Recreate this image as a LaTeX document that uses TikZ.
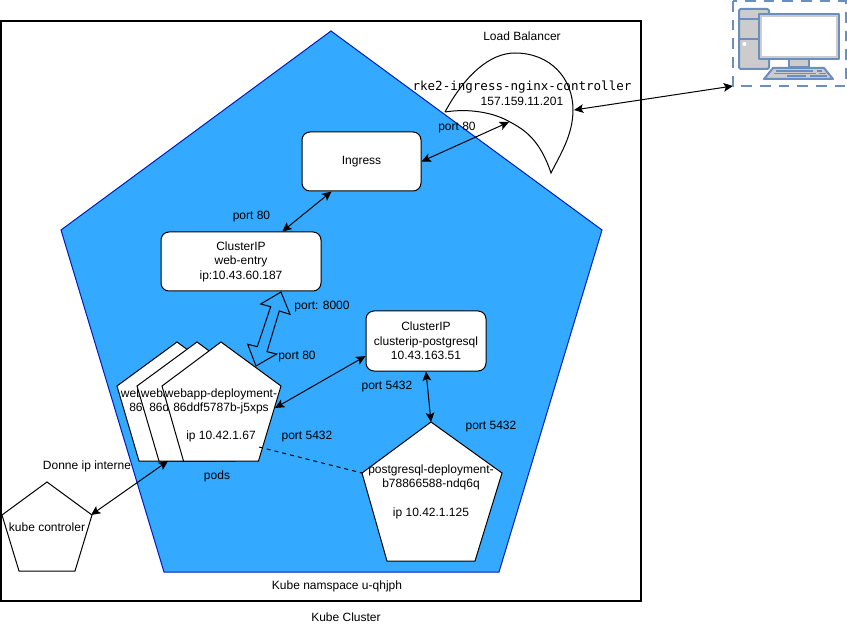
\documentclass[tikz,border=0pt]{standalone}
\usepackage{fontspec}
\setmainfont{Liberation Sans}
\newfontfamily\rkefont{DejaVu Sans Mono}
\usetikzlibrary{arrows.meta}
\definecolor{nsblue}{HTML}{33A9FF}
\definecolor{nsline}{HTML}{001DBC}
\definecolor{pcline}{HTML}{6C8EBF}
\definecolor{pcgray}{HTML}{CCCCCC}
\tikzset{
  lbl/.style={font=\fontsize{9}{10.5}\selectfont,align=center,inner sep=0pt,text=black,yshift=-0.6pt},
  box/.style={draw=black,fill=white,rounded corners=6pt,line width=0.75pt,inner sep=0pt,
     font=\fontsize{9}{10.8}\selectfont,align=center},
  pent/.style={draw=black,fill=white,line width=0.75pt,line join=miter},
  link/.style={draw=black,line width=0.75pt,{Stealth[length=7pt,width=6.5pt,inset=1.5pt]}-{Stealth[length=7pt,width=6.5pt,inset=1.5pt]}},
  pcpart/.style={draw=pcline,line width=1.5pt,line join=round},
}
\newcommand{\pentagon}[8]{%
  \coordinate (#1a) at (#2,#3);
  \coordinate (#1l) at (#5,#4);
  \coordinate (#1r) at (#6,#4);
  \coordinate (#1p) at (#2+#8,#7);
  \coordinate (#1q) at (#2-#8,#7);
  \draw[pent] (#1a) -- (#1r) -- (#1p) -- (#1q) -- (#1l) -- cycle;
}
\begin{document}
\begin{tikzpicture}[x=0.75pt,y=-0.75pt]
\useasboundingbox (0,0) rectangle (847,631);
% cluster
\draw[black,line width=1.5pt,fill=white] (1,21) rectangle (641,601);
% namespace
\coordinate (nsa) at (331,31);
\coordinate (nsr) at (602,230);
\coordinate (nsp) at (499,572);
\coordinate (nsq) at (164,572);
\coordinate (nsl) at (61,230);
\draw[fill=nsblue,draw=nsline,line width=0.75pt] (nsa) -- (nsr) -- (nsp) -- (nsq) -- (nsl) -- cycle;
% load balancer
\coordinate (lbs) at (445,112);
\coordinate (lbt) at (551,173);
\coordinate (lbm) at (510,122);
\coordinate (lbr) at (573,110);
\draw[draw=black,line width=0.75pt]
  (lbs) .. controls (465,75) and (490,53) .. (515,53)
  .. controls (550,53) and (573,78) .. (573,110)
  .. controls (573,135) and (560,155) .. (lbt)
  .. controls (540,140) and (525,130) .. (lbm)
  .. controls (495,113) and (470,108) .. (lbs);
% boxes
\node[box,minimum width=89.25pt,minimum height=44.25pt] (ingress) at (361.5,161.5) {Ingress};
\node[box,minimum width=120pt,minimum height=44.25pt] (web) at (241,261.5)
  {ClusterIP\\web-entry\\ip:10.43.60.187};
\node[box,minimum width=90pt,minimum height=45pt] (pg) at (426,341)
  {ClusterIP\\clusterip-postgresql\\10.43.163.51};
% pods
\pentagon{pa}{177}{342}{386}{117}{237}{461}{38}
\node[lbl] (patxt) at (177,401) {webapp-deployment-\\86ddf5787b-j5xps};
\pentagon{pb}{197}{342}{386}{137}{257}{461}{38}
\node[lbl] (pbtxt) at (197,401) {webapp-deployment-\\86ddf5787b-j5xps};
\pentagon{pc}{221}{342}{386}{162}{281}{461}{37.5}
\node[lbl] (pctxt) at (221,401) {webapp-deployment-\\86ddf5787b-j5xps};
\node[lbl] (pcip) at (221,436) {ip 10.42.1.67};
% postgres
\pentagon{pq}{431}{422}{473}{362}{502}{561}{44}
\node[lbl] (pqtxt) at (431,477) {postgresql-deployment-\\b78866588-ndq6q};
\node[lbl] (pqip) at (431,513) {ip 10.42.1.125};
% kube controler
\pentagon{kc}{47}{482}{515}{2}{92}{571}{28}
\node[lbl] (kctxt) at (47,526) {kube controler};
% block double arrow
\coordinate (ba) at (281,292);
\coordinate (bb) at (256,366);
\draw[draw=black,line width=0.75pt,line join=miter]
  (ba) -- (290,314.3) -- (279.3,311) -- (267,351.7) -- (276.7,354) -- (bb)
  -- (247.7,344.3) -- (257.3,346.7) -- (270.7,306.7) -- (260.7,304) -- cycle;
% connectors
\coordinate (lbin) at (509,122);
\coordinate (lbout) at (574,110);
\coordinate (pcbox) at (733,86);
\coordinate (podr) at (275,408);
\coordinate (podb) at (168,461);
\coordinate (pgs) at (427,371);
\coordinate (kcout) at (91,515);
\coordinate (podd) at (259,447);
\draw[link] (ingress.east) -- (lbin);
\draw[link] (lbout) -- (pcbox);
\draw[link] (ingress.225) -- (web.36.4);
\draw[link] (podr) -- (pg.194.9);
\draw[link] (pg.south) -- (pqa);
\draw[link] (kcout) -- (podb);
\draw[draw=black,line width=0.75pt,dash pattern=on 3pt off 3pt] (podd) -- (pql);
% computer
\draw[pcline,line width=1.5pt,dash pattern=on 8pt off 6pt] (733,1) rectangle (846,86);
\draw[pcpart,fill=pcgray,rounded corners=1.5pt] (739,9) rectangle (769,69);
\draw[pcpart] (739,19) -- (759,19) (739,39) -- (759,39);
\fill[white] (744.3,44) circle (2);
\draw[pcpart,fill=pcgray] (759,14) rectangle (839,59);
\fill[white] (762,17) rectangle (836,56);
\draw[pcpart,fill=pcgray] (789,59) rectangle (809,67);
\draw[pcpart,fill=pcgray] (764,79) -- (773,68) -- (824,68) -- (833,79) -- cycle;
\draw[pcline,line width=1pt] (776,71) -- (813,71) (817,71) -- (822,71)
  (774,73.5) -- (816,73.5) (819,73.5) -- (826,73.5)
  (787,76) -- (806,76) (810,76) -- (827,76);
% labels
\node[lbl] (t1) at (522,35) {Load Balancer};
\node[lbl,font=\rkefont\fontsize{9.4}{11}\selectfont] (t2) at (522,86) {rke2-ingress-nginx-controller};
\node[lbl] (t3) at (522,101) {157.159.11.201};
\node[lbl] (t4) at (457,127) {port 80};
\node[lbl] (t5) at (251.5,216) {port 80};
\node[lbl] (t6) at (322,306) {port: 8000};
\node[lbl] (t7) at (297,356) {port 80};
\node[lbl] (t8) at (387,386) {port 5432};
\node[lbl] (t9) at (491,426) {port 5432};
\node[lbl] (t10) at (307,436) {port 5432};
\node[lbl] (t11) at (217,476) {pods};
\node[lbl] (t12) at (87,466) {Donne ip interne};
\node[lbl] (t13) at (337,586) {Kube namspace u-qhjph};
\node[lbl] (t14) at (346,616) {Kube Cluster};
\end{tikzpicture}
\end{document}
